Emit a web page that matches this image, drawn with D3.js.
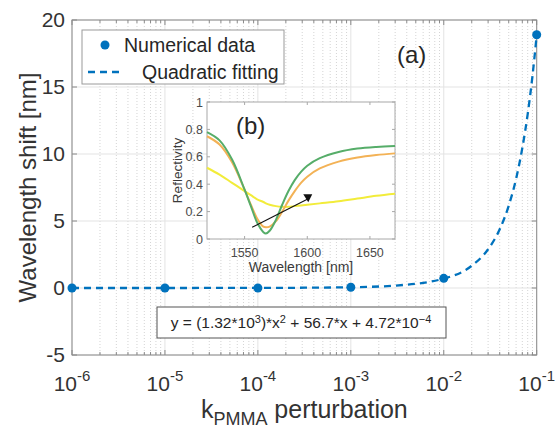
<!DOCTYPE html>
<html><head><meta charset="utf-8">
<script src="https://cdn.jsdelivr.net/npm/d3@7"></script>
<style>body{margin:0;background:#fff}svg{display:block}text{font-family:"Liberation Sans",Arial,sans-serif}</style>
</head><body>
<script>
// ---- main chart data ----
const kValues = [1e-6, 1e-5, 1e-4, 1e-3, 1e-2, 1e-1];
const shiftValues = [0, 0, 0, 0.06, 0.72, 18.9];
// quadratic fitting curve
const fitK = [1e-6, 1e-5, 1e-4, 1e-3, 3e-3, 1e-2, 2e-2, 3e-2, 4e-2, 5e-2, 6e-2, 7e-2, 8e-2, 9e-2, 1e-1];
const fitShift = [0, 0.001, 0.006, 0.058, 0.18, 0.70, 1.66, 2.89, 4.38, 6.14, 8.15, 10.44, 12.98, 15.8, 18.87];
const yTicks = [-5, 0, 5, 10, 15, 20];
const xTickExp = [-6, -5, -4, -3, -2, -1];
// ---- inset data ----
const wl = [1520, 1530, 1540, 1550, 1555, 1560, 1565, 1567, 1570, 1575, 1580, 1585, 1590, 1595, 1600, 1610, 1625, 1640, 1655, 1670];
const reflGreen  = [0.78, 0.72, 0.58, 0.36, 0.24, 0.12, 0.05, 0.04, 0.06, 0.14, 0.25, 0.35, 0.43, 0.49, 0.535, 0.59, 0.635, 0.66, 0.672, 0.678];
const reflOrange = [0.75, 0.69, 0.56, 0.36, 0.25, 0.15, 0.09, 0.085, 0.09, 0.13, 0.20, 0.28, 0.35, 0.41, 0.455, 0.515, 0.565, 0.595, 0.613, 0.625];
const reflYellow = [0.52, 0.47, 0.41, 0.35, 0.32, 0.29, 0.27, 0.26, 0.25, 0.24, 0.235, 0.235, 0.24, 0.245, 0.25, 0.26, 0.275, 0.295, 0.315, 0.33];
const insetXTicks = [1550, 1600, 1650];
const insetYTicks = [0, 0.2, 0.4, 0.6, 0.8, 1];
const insetYLabels = ["0", "0.2", "0.4", "0.6", "0.8", "1"];
const arrowWl = [1556, 1600];
const arrowR = [0.085, 0.29];

const W = 556, H = 433;
const svg = d3.select("body").append("svg").attr("width", W).attr("height", H);

const L = 72, R = 536.7, T = 20, B = 355;
const x = d3.scaleLog().domain([1e-6, 1e-1]).range([L, R]);
const y = d3.scaleLinear().domain([-5, 20]).range([B, T]);

const minor = [];
for (let e = -6; e < -1; e++) for (let k = 2; k <= 9; k++) minor.push(k * Math.pow(10, e));

// grid
const g = svg.append("g");
g.selectAll(".mg").data(minor).join("line")
  .attr("x1", d => x(d)).attr("x2", d => x(d)).attr("y1", T).attr("y2", B)
  .attr("stroke", "#d4d4d4").attr("stroke-width", 1).attr("stroke-dasharray", "1,2");
g.selectAll(".Mg").data(xTickExp.map(e => Math.pow(10, e))).join("line")
  .attr("x1", d => x(d)).attr("x2", d => x(d)).attr("y1", T).attr("y2", B)
  .attr("stroke", "#e3e3e3").attr("stroke-width", 1);
g.selectAll(".hg").data(yTicks).join("line")
  .attr("x1", L).attr("x2", R).attr("y1", d => y(d)).attr("y2", d => y(d))
  .attr("stroke", "#e3e3e3").attr("stroke-width", 1);

// axes box and ticks
const axCol = "#8a8a8a";
svg.append("rect").attr("x", L).attr("y", T).attr("width", R - L).attr("height", B - T)
  .attr("fill", "none").attr("stroke", axCol).attr("stroke-width", 1);
const tk = svg.append("g").attr("stroke", axCol).attr("stroke-width", 1);
xTickExp.forEach(e => {
  const px = x(Math.pow(10, e));
  tk.append("line").attr("x1", px).attr("x2", px).attr("y1", B).attr("y2", B - 5);
  tk.append("line").attr("x1", px).attr("x2", px).attr("y1", T).attr("y2", T + 5);
});
minor.forEach(v => {
  const px = x(v);
  tk.append("line").attr("x1", px).attr("x2", px).attr("y1", B).attr("y2", B - 3);
  tk.append("line").attr("x1", px).attr("x2", px).attr("y1", T).attr("y2", T + 3);
});
yTicks.forEach(v => {
  tk.append("line").attr("x1", L).attr("x2", L + 5).attr("y1", y(v)).attr("y2", y(v));
  tk.append("line").attr("x1", R).attr("x2", R - 5).attr("y1", y(v)).attr("y2", y(v));
});

// tick labels
const txtCol = "#333";
svg.append("g").selectAll("text").data(yTicks).join("text")
  .attr("x", 65).attr("y", d => y(d) + 7).attr("text-anchor", "end")
  .attr("font-size", 21).attr("fill", txtCol).text(d => d);
const xl = svg.append("g").selectAll("text").data(xTickExp).join("text")
  .attr("x", d => x(Math.pow(10, d))).attr("y", 391).attr("text-anchor", "middle")
  .attr("font-size", 21).attr("fill", txtCol);
xl.append("tspan").text("10");
xl.append("tspan").attr("dy", -10).attr("font-size", 15).text(d => "-" + Math.abs(d));

// axis titles
const xt = svg.append("text").attr("x", (L + R) / 2).attr("y", 418).attr("text-anchor", "middle")
  .attr("font-size", 25).attr("fill", txtCol);
xt.append("tspan").text("k");
xt.append("tspan").attr("dy", 7).attr("font-size", 18).text("PMMA");
xt.append("tspan").attr("dy", -7).text(" perturbation");
svg.append("text").attr("transform", `translate(36,${(T + B) / 2}) rotate(-90)`)
  .attr("text-anchor", "middle").attr("font-size", 24).attr("fill", txtCol)
  .text("Wavelength shift [nm]");

// fit line and data
const blue = "#0072BD";
svg.append("path").datum(fitK.map((k, i) => [k, fitShift[i]]))
  .attr("d", d3.line().x(d => x(d[0])).y(d => y(d[1])).curve(d3.curveMonotoneX))
  .attr("fill", "none").attr("stroke", blue).attr("stroke-width", 2.3).attr("stroke-dasharray", "7,5");
svg.append("g").selectAll("circle").data(kValues).join("circle")
  .attr("cx", d => x(d)).attr("cy", (d, i) => y(shiftValues[i])).attr("r", 4.5).attr("fill", blue);

// legend
svg.append("rect").attr("x", 82).attr("y", 30).attr("width", 202).attr("height", 54)
  .attr("fill", "#fff").attr("stroke", "#9a9a9a");
svg.append("circle").attr("cx", 105).attr("cy", 45).attr("r", 4.5).attr("fill", blue);
svg.append("line").attr("x1", 88).attr("x2", 121).attr("y1", 72).attr("y2", 72)
  .attr("stroke", blue).attr("stroke-width", 2.3).attr("stroke-dasharray", "7,5");
svg.append("text").attr("x", 124).attr("y", 52).attr("font-size", 19.5).attr("fill", "#262626").text("Numerical data");
svg.append("text").attr("x", 142).attr("y", 79).attr("font-size", 19.5).attr("fill", "#262626").text("Quadratic fitting");

svg.append("text").attr("x", 397).attr("y", 63).attr("font-size", 24).attr("fill", "#262626").text("(a)");

// equation box
svg.append("rect").attr("x", 157).attr("y", 307).attr("width", 289).attr("height", 31)
  .attr("fill", "#fff").attr("stroke", "#555");
const eq = svg.append("text").attr("x", 301).attr("y", 328).attr("text-anchor", "middle")
  .attr("font-size", 15.5).attr("fill", "#262626");
eq.append("tspan").text("y = (1.32*10");
eq.append("tspan").attr("dy", -5).attr("font-size", 11).text("3");
eq.append("tspan").attr("dy", 5).text(")*x");
eq.append("tspan").attr("dy", -5).attr("font-size", 11).text("2");
eq.append("tspan").attr("dy", 5).text(" + 56.7*x + 4.72*10");
eq.append("tspan").attr("dy", -5).attr("font-size", 11).text("\u22124");

// ---- inset ----
const iL = 207, iR = 395, iT = 102, iB = 239;
const xi = d3.scaleLinear().domain([1520, 1670]).range([iL, iR]);
const yi = d3.scaleLinear().domain([0, 1]).range([iB, iT]);
svg.append("rect").attr("x", iL).attr("y", iT).attr("width", iR - iL).attr("height", iB - iT)
  .attr("fill", "#fff").attr("stroke", "#a8a8a8");
const itk = svg.append("g").attr("stroke", "#a8a8a8");
insetXTicks.forEach(v => {
  itk.append("line").attr("x1", xi(v)).attr("x2", xi(v)).attr("y1", iB).attr("y2", iB - 3);
  itk.append("line").attr("x1", xi(v)).attr("x2", xi(v)).attr("y1", iT).attr("y2", iT + 3);
});
insetYTicks.forEach(v => {
  itk.append("line").attr("x1", iL).attr("x2", iL + 3).attr("y1", yi(v)).attr("y2", yi(v));
  itk.append("line").attr("x1", iR).attr("x2", iR - 3).attr("y1", yi(v)).attr("y2", yi(v));
});
svg.append("g").selectAll("text").data(insetYTicks).join("text")
  .attr("x", 203).attr("y", d => yi(d) + 4.5).attr("text-anchor", "end")
  .attr("font-size", 12.5).attr("fill", "#4a4a4a").text((d, i) => insetYLabels[i]);
svg.append("g").selectAll("text").data(insetXTicks).join("text")
  .attr("x", d => xi(d)).attr("y", 257).attr("text-anchor", "middle")
  .attr("font-size", 12.5).attr("fill", "#4a4a4a").text(d => d);
svg.append("text").attr("x", (iL + iR) / 2).attr("y", 272).attr("text-anchor", "middle")
  .attr("font-size", 14).attr("fill", "#3a3a3a").text("Wavelength [nm]");
svg.append("text").attr("transform", `translate(182,${(iT + iB) / 2}) rotate(-90)`)
  .attr("text-anchor", "middle").attr("font-size", 13.5).attr("fill", "#3a3a3a").text("Reflectivity");
svg.append("text").attr("x", 236).attr("y", 134).attr("font-size", 24).attr("fill", "#262626").text("(b)");

const iline = d3.line().x(d => xi(d[0])).y(d => yi(d[1])).curve(d3.curveCatmullRom.alpha(0.5));
[[reflYellow, "#F2EC3A"], [reflOrange, "#F3B256"], [reflGreen, "#56AD69"]].forEach(([vals, c]) => {
  svg.append("path").datum(wl.map((w, i) => [w, vals[i]])).attr("d", iline)
    .attr("fill", "none").attr("stroke", c).attr("stroke-width", 2);
});
// arrow
const ax0 = xi(arrowWl[0]), ay0 = yi(arrowR[0]), ax1 = xi(arrowWl[1]), ay1 = yi(arrowR[1]);
svg.append("line").attr("x1", ax0).attr("y1", ay0).attr("x2", ax1).attr("y2", ay1)
  .attr("stroke", "#111").attr("stroke-width", 1.1);
svg.append("path").attr("d", `M${ax1 - 4},${ay1 - 5} L${ax1 + 5},${ay1 - 5} L${ax1 + 1},${ay1 + 3} Z`)
  .attr("fill", "#111");
</script>
</body></html>
